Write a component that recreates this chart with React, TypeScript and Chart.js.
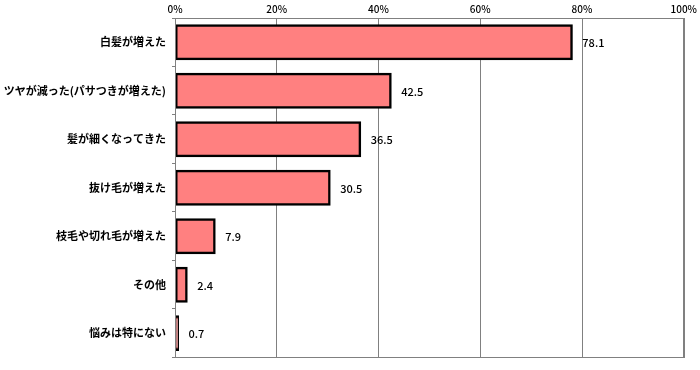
import React, { useEffect, useRef } from "react";
import { Chart, registerables } from "chart.js";

Chart.register(...registerables);

const categories = [
  "白髪が増えた",
  "ツヤが減った(パサつきが増えた)",
  "髪が細くなってきた",
  "抜け毛が増えた",
  "枝毛や切れ毛が増えた",
  "その他",
  "悩みは特にない",
];
const values = [78.1, 42.5, 36.5, 30.5, 7.9, 2.4, 0.7];
const xTicks = [0, 20, 40, 60, 80, 100];

const FONT = "'Noto Sans CJK JP', 'Noto Sans', sans-serif";

const frameAndLabels = {
  id: "frameAndLabels",
  afterDatasetsDraw(chart: any) {
    const { ctx, chartArea } = chart;
    ctx.save();
    ctx.strokeStyle = "#808080";
    ctx.lineWidth = 1;
    ctx.strokeRect(
      Math.round(chartArea.left) + 0.5,
      Math.round(chartArea.top) + 0.5,
      Math.round(chartArea.right - chartArea.left),
      Math.round(chartArea.bottom - chartArea.top)
    );
    const meta = chart.getDatasetMeta(0);
    ctx.fillStyle = "#000";
    ctx.font = `500 11px ${FONT}`;
    ctx.textAlign = "left";
    ctx.textBaseline = "middle";
    meta.data.forEach((bar: any, i: number) => {
      ctx.fillText(values[i].toFixed(1), bar.x + 10, bar.y + 1);
    });
    ctx.restore();
  },
};

export default function App() {
  const ref = useRef<HTMLCanvasElement>(null);
  useEffect(() => {
    document.body.style.margin = "0";
    const chart = new Chart(ref.current!, {
      type: "bar",
      data: {
        labels: categories,
        datasets: [
          {
            data: values,
            backgroundColor: "#FF8080",
            borderColor: "#000000",
            borderWidth: 2.5,
            borderSkipped: false,
            inflateAmount: 0.5,
            barPercentage: 0.72,
            categoryPercentage: 1,
          },
        ],
      },
      options: {
        indexAxis: "y",
        animation: false,
        responsive: false,
        maintainAspectRatio: false,
        layout: { padding: { left: 0, right: 15, top: 0, bottom: 2 } },
        plugins: { legend: { display: false }, tooltip: { enabled: false } },
        scales: {
          x: {
            position: "top",
            min: 0,
            max: 100,
            afterBuildTicks: (scale: any) => {
              scale.ticks = xTicks.map((v) => ({ value: v }));
            },
            afterFit: (scale: any) => {
              scale.height = 18;
            },
            ticks: {
              callback: (v: any) => v + "%",
              color: "#000",
              font: { size: 10, family: FONT, weight: "500" },
              padding: 3,
              maxRotation: 0,
            },
            grid: { color: "#808080", drawTicks: false, lineWidth: 1 },
            border: { display: false },
          },
          y: {
            afterFit: (scale: any) => {
              scale.width = 175;
            },
            ticks: {
              color: "#000",
              font: { size: 11, family: FONT, weight: "bold" },
              padding: 6,
            },
            grid: {
              offset: true,
              drawOnChartArea: false,
              tickLength: 3,
              color: "#808080",
            },
            border: { display: false },
          },
        },
      },
      plugins: [frameAndLabels],
    });
    return () => chart.destroy();
  }, []);
  return <canvas ref={ref} width={700} height={370} style={{ display: "block" }} />;
}
